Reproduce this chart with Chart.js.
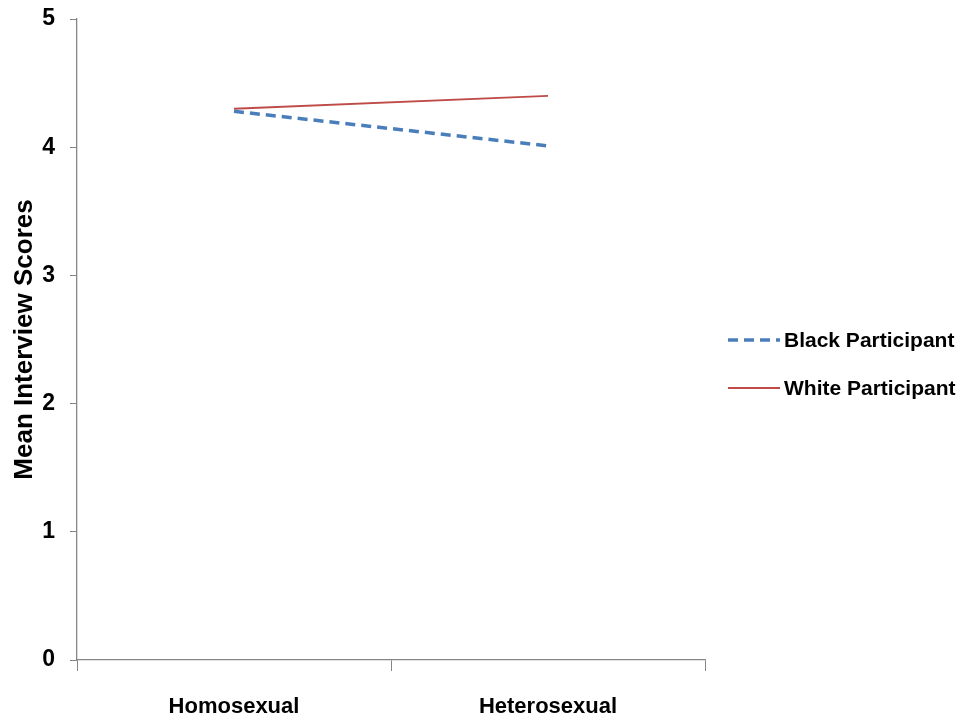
<!DOCTYPE html>
<html lang="en">
<head>
<meta charset="UTF-8">
<title>Mean Interview Scores</title>
<script src="https://cdn.jsdelivr.net/npm/chart.js"></script>
<style>
    html, body {
        margin: 0;
        padding: 0;
        background: #ffffff;
    }
</style>
</head>
<body>
<canvas id="grafico" width="965" height="724"></canvas>
<script>
// datos
const categorias = ['Homosexual', 'Heterosexual'];
const negro = [4.28, 4.01];
const blanco = [4.30, 4.40];
const ticksY = [0, 1, 2, 3, 4, 5];

const fuente = "Arial, 'Liberation Sans', sans-serif";
const gris = '#868686';

// leyenda a la derecha, dibujada a mano (la de Chart.js no cabe)
const leyendaManual = {
    id: 'leyendaManual',
    afterDraw(chart) {
        const ctx = chart.ctx;
        const x0 = chart.chartArea.right + 23;
        const largo = 52;
        ctx.save();
        ctx.font = 'bold 21px ' + fuente;
        ctx.textBaseline = 'middle';
        ctx.fillStyle = '#000';
        chart.data.datasets.forEach((ds, i) => {
            const y = 340 + i * 48;
            ctx.beginPath();
            ctx.strokeStyle = ds.borderColor;
            ctx.lineWidth = ds.borderWidth;
            ctx.setLineDash(ds.borderDash || []);
            ctx.moveTo(x0, y);
            ctx.lineTo(x0 + largo, y);
            ctx.stroke();
            ctx.setLineDash([]);
            ctx.fillText(ds.label, x0 + largo + 4, y + 1);
        });
        ctx.restore();
    }
};

new Chart(document.getElementById('grafico'), {
    type: 'line',
    data: {
        labels: categorias,
        datasets: [
            {
                label: 'Black Participant',
                data: negro,
                borderColor: '#4a7ebb',
                backgroundColor: '#4a7ebb',
                borderWidth: 3.5,
                borderDash: [10, 6],
                pointRadius: 0,
                fill: false
            },
            {
                label: 'White Participant',
                data: blanco,
                borderColor: '#be4b48',
                backgroundColor: '#be4b48',
                borderWidth: 1.8,
                pointRadius: 0,
                fill: false
            }
        ]
    },
    options: {
        responsive: false,
        animation: false,
        layout: {
            padding: { top: 19, right: 260, bottom: 0, left: 0 }
        },
        plugins: {
            legend: { display: false },
            tooltip: { enabled: false }
        },
        scales: {
            x: {
                offset: true,
                afterFit: function (eje) { eje.height = 64; },
                grid: {
                    offset: true,
                    drawOnChartArea: false,
                    drawTicks: true,
                    tickLength: 11,
                    color: gris
                },
                border: { color: gris, width: 1.3 },
                ticks: {
                    color: '#000',
                    padding: 23,
                    font: { family: fuente, size: 22, weight: 'bold' }
                }
            },
            y: {
                min: 0,
                max: 5,
                afterFit: function (eje) {
                    eje.width = 77;
                    eje.paddingTop = 0;
                    eje.paddingBottom = 0;
                },
                afterBuildTicks: function (eje) {
                    eje.ticks = ticksY.map(v => ({ value: v }));
                },
                grid: {
                    drawOnChartArea: false,
                    drawTicks: true,
                    tickLength: 7,
                    color: gris
                },
                border: { color: gris, width: 1.3 },
                ticks: {
                    color: '#000',
                    padding: 15,
                    font: { family: fuente, size: 23, weight: 'bold' }
                },
                title: {
                    display: true,
                    text: 'Mean Interview Scores',
                    color: '#000',
                    padding: { top: 9, bottom: 4 },
                    font: { family: fuente, size: 26, weight: 'bold' }
                }
            }
        }
    },
    plugins: [leyendaManual]
});
</script>
</body>
</html>
